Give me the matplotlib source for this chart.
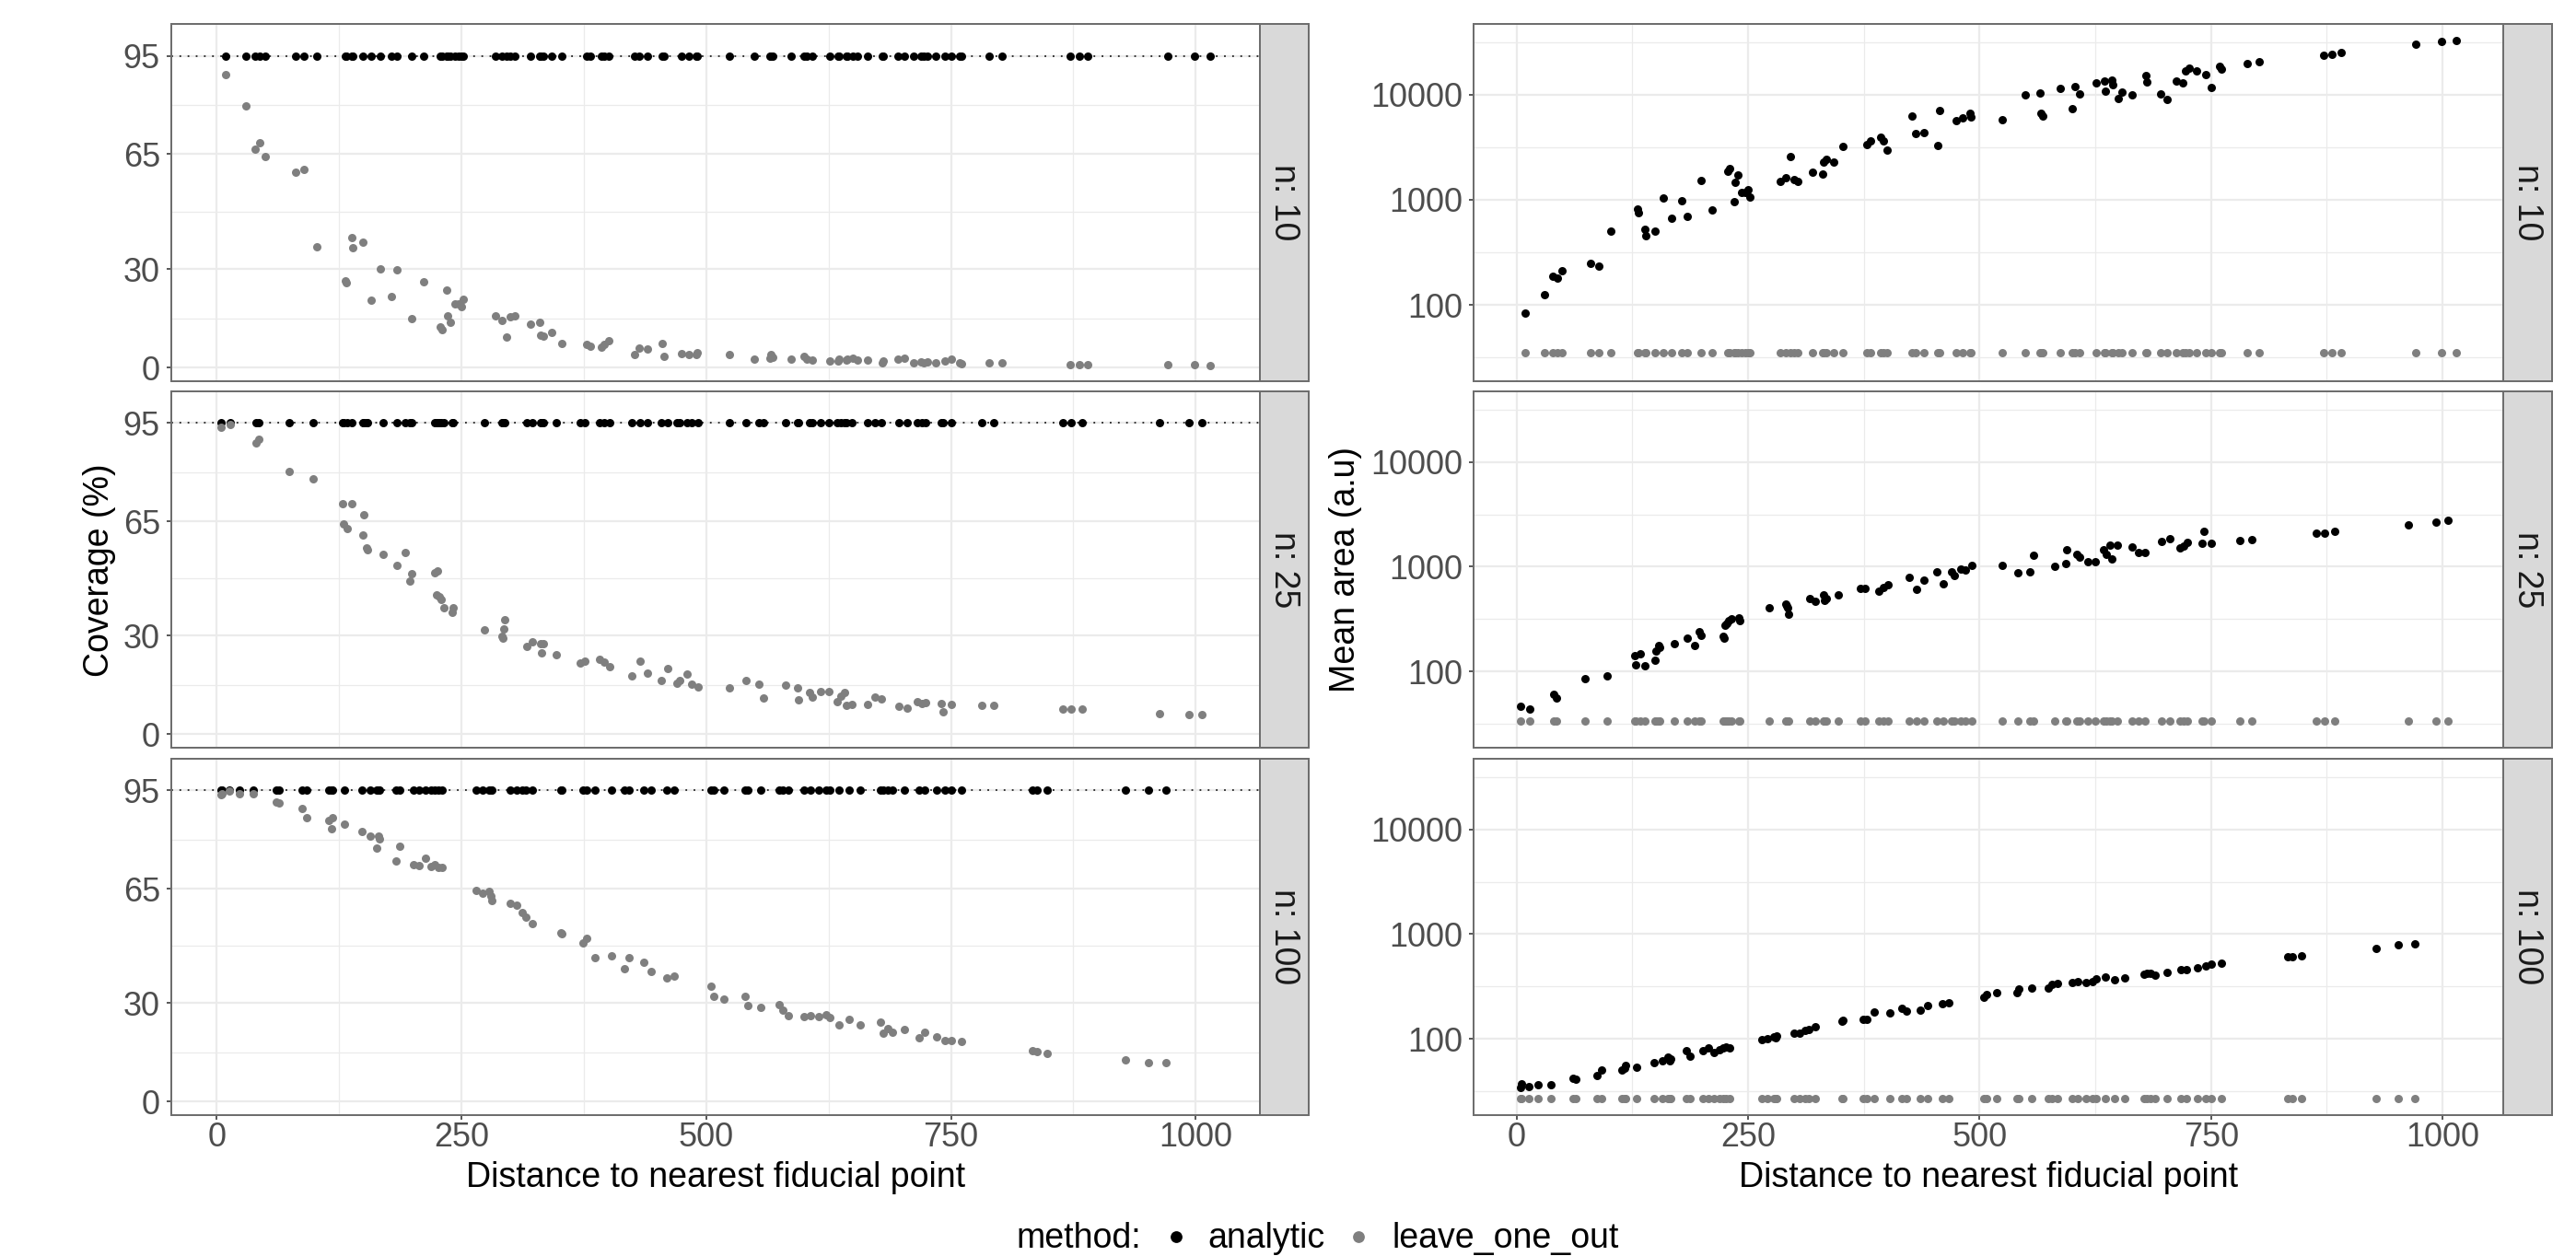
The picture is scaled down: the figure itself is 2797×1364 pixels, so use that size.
import numpy as np
import matplotlib
matplotlib.use("Agg")
import matplotlib.pyplot as plt
from matplotlib.ticker import FixedLocator, NullFormatter, FixedFormatter

# ---------------- data ----------------
methods = ["analytic", "leave_one_out"]
row_labels = ["n: 10", "n: 25", "n: 100"]

dist_n10 = [9, 30, 39, 44, 49, 80, 89, 102, 131, 132,
            138, 139, 149, 158, 167, 178, 184, 199, 211, 228,
            230, 235, 236, 239, 243, 247, 250, 252, 285, 291,
            296, 300, 304, 320, 330, 331, 334, 342, 352, 378,
            382, 393, 396, 400, 427, 431, 440, 455, 457, 475,
            482, 490, 491, 524, 549, 565, 566, 568, 587, 600,
            603, 608, 626, 635, 636, 643, 644, 650, 654, 665,
            680, 681, 696, 702, 712, 719, 722, 726, 734, 744,
            750, 759, 761, 789, 802, 872, 881, 890, 971, 999,
            1015]
cov_loo_n10 = [89.4, 79.8, 66.6, 68.5, 64.2, 59.6, 60.3, 36.9, 26.3, 25.7,
               39.7, 36.6, 38.1, 20.5, 30.1, 21.6, 29.7, 14.8, 26.0, 12.3,
               11.6, 23.5, 15.8, 13.7, 19.4, 19.4, 18.5, 20.7, 15.7, 14.3,
               9.3, 15.4, 15.6, 13.1, 13.7, 9.9, 9.6, 10.7, 7.4, 6.9,
               6.6, 6.1, 6.9, 8.2, 4.0, 5.8, 5.5, 7.4, 3.4, 4.3,
               3.9, 3.9, 4.4, 3.9, 2.5, 2.9, 3.9, 3.2, 2.5, 3.4,
               2.5, 2.3, 2.0, 2.0, 2.4, 2.3, 2.6, 2.7, 2.3, 2.3,
               1.5, 1.9, 2.5, 2.7, 1.5, 1.6, 1.5, 1.7, 1.5, 2.0,
               2.5, 1.3, 1.2, 1.3, 1.3, 0.9, 0.9, 0.9, 0.8, 0.9,
               0.6]
area_an_n10 = [83, 126, 189, 179, 212, 246, 233, 502, 809, 751,
               519, 454, 506, 1031, 670, 984, 689, 1521, 803, 1862,
               1995, 950, 1472, 1706, 1180, 1180, 1245, 1067, 1503, 1629,
               2570, 1542, 1503, 1812, 1766, 2300, 2450, 2280, 3192, 3365,
               3597, 3955, 3648, 2965, 6252, 4256, 4315, 3296, 7096, 5700,
               5970, 6700, 6180, 5780, 9890, 10420, 6600, 6270, 11510, 7400,
               11900, 10200, 12900, 13600, 10900, 13800, 12470, 9250, 10570, 10000,
               15280, 13090, 10200, 8930, 13370, 12900, 16670, 18030, 16670, 15600,
               11670, 18660, 17460, 19950, 20650, 23600, 24400, 25250, 30300, 32350,
               32980]

dist_n25 = [4, 14, 40, 43, 74, 98, 128, 129, 133, 138,
            149, 150, 153, 154, 170, 184, 192, 197, 199, 223,
            224, 225, 227, 229, 232, 240, 241, 273, 291, 292,
            293, 294, 317, 322, 331, 332, 334, 347, 371, 376,
            391, 396, 401, 424, 432, 440, 454, 461, 470, 473,
            480, 485, 492, 524, 541, 554, 558, 581, 593, 594,
            605, 608, 617, 625, 634, 637, 641, 643, 649, 665,
            672, 679, 697, 705, 716, 720, 724, 740, 742, 750,
            781, 794, 864, 873, 884, 963, 993, 1006]
cov_loo_n25 = [93.6, 94.6, 89.0, 90.0, 80.1, 78.0, 70.3, 64.1, 62.7, 70.3,
               60.7, 67.0, 56.8, 56.3, 54.9, 51.4, 55.5, 46.8, 49.0, 49.3,
               42.5, 49.7, 41.9, 41.2, 38.6, 37.1, 38.7, 31.8, 29.9, 29.3,
               32.0, 34.9, 26.8, 28.3, 27.5, 24.8, 27.5, 24.3, 21.8, 22.2,
               22.7, 22.0, 20.6, 17.8, 22.2, 18.5, 16.3, 20.1, 15.6, 16.3,
               18.2, 15.1, 14.5, 14.0, 16.3, 15.1, 10.9, 14.9, 14.0, 10.3,
               12.6, 11.2, 13.1, 13.1, 10.0, 11.5, 12.6, 8.8, 9.0, 9.0,
               11.2, 10.7, 8.4, 7.9, 9.8, 9.3, 9.6, 9.3, 6.7, 9.0,
               8.7, 8.7, 7.5, 7.5, 7.5, 6.3, 5.8, 5.8]
area_an_n25 = [47, 43.5, 60.4, 55.7, 85.7, 91, 143, 116, 147, 114,
               128, 157, 179, 170, 185, 208, 177, 239, 221, 217,
               209, 279, 290, 303, 318, 324, 307, 405, 444, 424,
               410, 351, 495, 466, 537, 475, 500, 540, 622, 626,
               582, 634, 669, 787, 610, 750, 887, 687, 899, 824,
               942, 923, 1028, 1028, 881, 898, 1288, 1007, 1076, 1455,
               1316, 1230, 1112, 1112, 1455, 1316, 1607, 1189, 1607, 1556,
               1361, 1377, 1754, 1837, 1503, 1578, 1718, 1663, 2173, 1663,
               1778, 1803, 2100, 2100, 2173, 2518, 2655, 2748]

dist_n100 = [4, 5, 13, 23, 37, 61, 64, 87, 92, 114,
             117, 118, 130, 148, 157, 163, 165, 166, 183, 187,
             201, 207, 213, 219, 223, 226, 230, 265, 271, 278,
             280, 281, 300, 306, 312, 316, 322, 351, 352, 374,
             378, 386, 403, 416, 421, 436, 444, 460, 467, 505,
             508, 518, 540, 542, 556, 574, 578, 584, 600, 606,
             615, 622, 626, 636, 646, 657, 678, 681, 685, 690,
             702, 717, 723, 735, 744, 750, 761, 833, 838, 848,
             928, 952, 970]
cov_loo_n100 = [93.6, 94.0, 94.8, 93.9, 93.9, 91.4, 91.3, 89.6, 86.6, 85.8,
                83.3, 86.6, 84.7, 82.6, 81.1, 77.5, 81.0, 80.3, 73.4, 78.0,
                72.3, 72.1, 74.3, 71.8, 72.3, 71.4, 71.6, 64.4, 63.5, 64.3,
                62.7, 61.3, 60.4, 59.9, 57.8, 56.4, 54.2, 51.5, 51.2, 48.5,
                49.9, 44.0, 44.5, 40.5, 43.8, 42.6, 39.8, 37.7, 38.2, 35.2,
                32.2, 31.2, 32.2, 29.3, 28.8, 29.6, 27.8, 26.3, 25.8, 26.1,
                26.0, 26.5, 25.5, 23.3, 25.0, 23.5, 24.1, 20.8, 22.3, 21.0,
                22.1, 19.5, 21.1, 19.8, 18.6, 18.6, 18.2, 15.6, 15.2, 14.6,
                12.6, 11.9, 11.9]
area_an_n100 = [34.2, 37, 34.8, 36.6, 36.3, 41.8, 41.0, 44.7, 50.4, 51,
                52.9, 56, 54, 59.3, 61.6, 67.8, 61.6, 64, 77.4, 68.2,
                78, 81.8, 75, 79, 82.8, 84, 81.8, 98.6, 101.4, 105.5,
                103, 107, 113, 114.4, 120, 124, 130.8, 147.5, 150, 152.8,
                153, 180.7, 177, 198, 183, 188, 209, 216, 223, 248,
                267, 277, 278, 297, 307, 307, 330, 342, 347, 355,
                347, 355, 373, 394, 367, 380, 415, 420, 424, 409,
                433, 461, 455, 481, 495, 513, 524, 604, 610, 626,
                736, 785, 803]

# analytic coverage sits on the nominal level; leave-one-out area is flat per n
cov_an = [95.0, 95.0, 95.0]
area_loo = [35.3, 33.9, 26.8]
nominal = 95

cov_ticks = [0, 30, 65, 95]
cov_minor = [15, 47.5, 80]
area_ticks = [100, 1000, 10000]
area_tick_labels = ["100", "1000", "10000"]
x_ticks = [0, 250, 500, 750, 1000]
x_minor = [125, 375, 625, 875]
cov_ylim = (-4.2, 104.7)

dists = [dist_n10, dist_n25, dist_n100]
covs = [cov_loo_n10, cov_loo_n25, cov_loo_n100]
areas = [area_an_n10, area_an_n25, area_an_n100]

# ---------------- styling ----------------
W, H = 2797, 1364
DPI = 100
PT = 72.0 / DPI
plt.rcParams['font.family'] = ['Liberation Sans', 'DejaVu Sans']

fig = plt.figure(figsize=(W / DPI, H / DPI), dpi=DPI)

C_AN = "#000000"
C_LOO = "#7F7F7F"
GRID = "#EBEBEB"
BORDER = "#6E6E6E"
TICKLAB = "#4D4D4D"
STRIP = "#D9D9D9"

FS_TICK = 36 * PT
FS_TITLE = 37.5 * PT
FS_STRIP = 37.5 * PT
MS = 42  # marker area (pt^2)


def px_axes(x0, y0, x1, y1):
    return fig.add_axes([x0 / W, 1 - y1 / H, (x1 - x0) / W, (y1 - y0) / H])


# x limits with ggplot-style 5% expansion
all_x = np.concatenate([np.asarray(d, float) for d in dists])
xr = all_x.max() - all_x.min()
xlim = (all_x.min() - 0.05 * xr, all_x.max() + 0.05 * xr)

all_area = np.concatenate([np.asarray(a, float) for a in areas] + [np.asarray(area_loo, float)])
la, lb = np.log10(all_area.min()), np.log10(all_area.max())
lr = lb - la
area_ylim = (10 ** (la - 0.05 * lr), 10 ** (lb + 0.05 * lr))

rows_px = [(26, 414), (425, 812), (824, 1211)]
cols_px = [(186, 1368, 1421), (1600, 2718, 2771)]


def style_axes(ax, bottom):
    ax.set_facecolor("white")
    for sp in ax.spines.values():
        sp.set_color(BORDER)
        sp.set_linewidth(2.0 * PT)
    ax.set_xlim(*xlim)
    ax.xaxis.set_major_locator(FixedLocator(x_ticks))
    ax.xaxis.set_minor_locator(FixedLocator(x_minor))
    ax.xaxis.set_minor_formatter(NullFormatter())
    ax.grid(True, which="major", color=GRID, linewidth=2.2 * PT, zorder=0)
    ax.grid(True, which="minor", color=GRID, linewidth=1.3 * PT, zorder=0)
    ax.set_axisbelow(True)
    ax.tick_params(which="minor", length=0)
    ax.tick_params(axis="both", which="major", length=5 * PT, width=1.6 * PT,
                   color="#333333", labelsize=FS_TICK, labelcolor=TICKLAB)
    ax.tick_params(axis="y", pad=7 * PT)
    ax.tick_params(axis="x", pad=2 * PT)
    if not bottom:
        ax.tick_params(axis="x", which="both", length=0, labelbottom=False)


def add_strip(x0, x1, y0, y1, label):
    sax = px_axes(x0, y0, x1, y1)
    sax.set_facecolor(STRIP)
    sax.set_xticks([])
    sax.set_yticks([])
    for sp in sax.spines.values():
        sp.set_color(BORDER)
        sp.set_linewidth(2.0 * PT)
    sax.text(0.5, 0.5, label, rotation=270, ha="center", va="center",
             fontsize=FS_STRIP, color="#1A1A1A", transform=sax.transAxes)


for r, (y0, y1) in enumerate(rows_px):
    bottom = (r == 2)
    d = np.asarray(dists[r], float)

    # ---- coverage panel ----
    x0, x1, xs = cols_px[0]
    ax = px_axes(x0, y0, x1, y1)
    style_axes(ax, bottom)
    ax.set_ylim(*cov_ylim)
    ax.yaxis.set_major_locator(FixedLocator(cov_ticks))
    ax.yaxis.set_minor_locator(FixedLocator(cov_minor))
    ax.yaxis.set_minor_formatter(NullFormatter())
    ax.axhline(nominal, color="black", linewidth=1.1, linestyle=(0, (1.2, 4.6)), zorder=1)
    ax.scatter(d, np.full(d.shape, cov_an[r]), s=MS, color=C_AN, linewidths=0, zorder=2)
    ax.scatter(d, covs[r], s=MS, color=C_LOO, linewidths=0, zorder=3)
    add_strip(x1, xs, y0, y1, row_labels[r])

    # ---- mean area panel ----
    x0, x1, xs = cols_px[1]
    ax2 = px_axes(x0, y0, x1, y1)
    ax2.set_yscale("log")
    style_axes(ax2, bottom)
    ax2.set_ylim(*area_ylim)
    ax2.yaxis.set_major_locator(FixedLocator(area_ticks))
    ax2.yaxis.set_major_formatter(FixedFormatter(area_tick_labels))
    ax2.yaxis.set_minor_locator(FixedLocator([10 ** 1.5, 10 ** 2.5, 10 ** 3.5, 10 ** 4.5]))
    ax2.yaxis.set_minor_formatter(NullFormatter())
    ax2.tick_params(which="minor", length=0)
    ax2.scatter(d, areas[r], s=MS, color=C_AN, linewidths=0, zorder=2)
    ax2.scatter(d, np.full(d.shape, area_loo[r]), s=MS, color=C_LOO, linewidths=0, zorder=3)
    add_strip(x1, xs, y0, y1, row_labels[r])

# ---------------- figure-level texts & legend ----------------
ov = fig.add_axes([0, 0, 1, 1], zorder=10)
ov.set_xlim(0, W)
ov.set_ylim(H, 0)
ov.axis("off")
ov.patch.set_alpha(0)

ov.text(108, 619, "Coverage (%)", rotation=90, ha="center", va="center",
        fontsize=FS_TITLE, color="black")
ov.text(1461, 619, "Mean area (a.u)", rotation=90, ha="center", va="center",
        fontsize=FS_TITLE, color="black")
ov.text(777, 1289, "Distance to nearest fiducial point", ha="center", va="baseline",
        fontsize=FS_TITLE, color="black")
ov.text(2159, 1289, "Distance to nearest fiducial point", ha="center", va="baseline",
        fontsize=FS_TITLE, color="black")

ov.text(1103, 1355, "method:", ha="left", va="baseline", fontsize=FS_TITLE, color="black")
ov.scatter([1277], [1343], s=85, color=C_AN, linewidths=0)
ov.text(1311, 1355, methods[0], ha="left", va="baseline", fontsize=FS_TITLE, color="black")
ov.scatter([1475], [1343], s=85, color=C_LOO, linewidths=0)
ov.text(1512, 1355, methods[1], ha="left", va="baseline", fontsize=FS_TITLE, color="black")

fig.savefig("out.png", dpi=DPI, facecolor="white")
